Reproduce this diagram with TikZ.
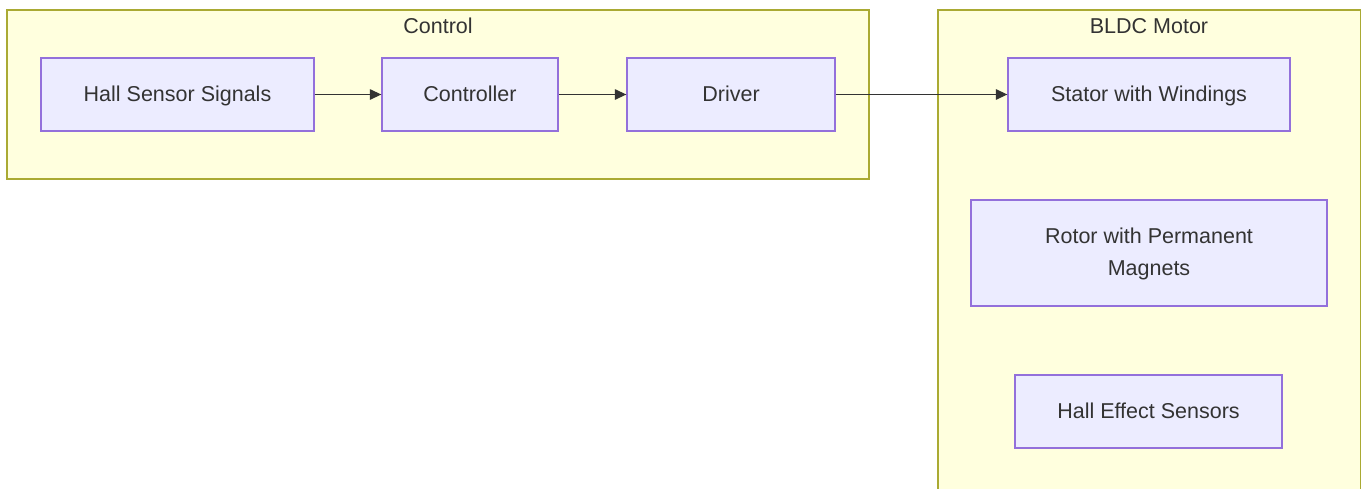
\documentclass[tikz,border=0pt]{standalone}
\usepackage{fontspec}
\setmainfont{Liberation Sans}
\usetikzlibrary{arrows.meta}
\definecolor{clfill}{HTML}{FFFFDE}
\definecolor{cldraw}{HTML}{AAAA33}
\definecolor{ndfill}{HTML}{ECECFF}
\definecolor{nddraw}{HTML}{9370DB}
\definecolor{txt}{HTML}{333333}
\tikzset{
  cluster/.style={fill=clfill, draw=cldraw, line width=1.3pt},
  clabel/.style={text=txt, font=\fontsize{21.5}{32}\selectfont, inner sep=0pt},
  box/.style={fill=ndfill, draw=nddraw, line width=1.3pt, text=txt,
    font=\fontsize{21.5}{32}\selectfont, inner sep=0pt},
  oneline/.style={box, text height=14.6pt, text depth=0pt},
  conn/.style={draw=txt, line width=1.3pt, -{Triangle[length=11.5pt,width=10.5pt]}}
}
\begin{document}
\begin{tikzpicture}[x=1pt,y=-1pt]
\useasboundingbox (0,0) rectangle (1366,488);
\clip (0,0) rectangle (1366,488);
\fill[white] (0,0) rectangle (1366,488);
% clusters
\draw[cluster] (7,10) rectangle (869,179);
\draw[cluster] (938,10) rectangle (1360.5,520);
\node[clabel] (lctl) at (438,26) {Control};
\node[clabel] (lbldc) at (1149,26) {BLDC Motor};
% nodes
\node[oneline, minimum width=273pt, minimum height=73pt] (hall) at (177.5,94.5) {Hall Sensor Signals};
\node[oneline, minimum width=176pt, minimum height=73pt] (ctrl) at (470,94.5) {Controller};
\node[oneline, minimum width=208pt, minimum height=73pt] (drv) at (731,94.5) {Driver};
\node[oneline, minimum width=282pt, minimum height=73pt] (stator) at (1149,94.5) {Stator with Windings};
\node[box, minimum width=356pt, minimum height=106pt] (rotor) at (1149,253) {\raisebox{-3pt}{\begin{tabular}{@{}c@{}}Rotor with Permanent\\Magnets\end{tabular}}};
\node[oneline, minimum width=267pt, minimum height=73pt] (hes) at (1148.5,411.5) {Hall Effect Sensors};
% connectors
\draw[conn] (hall) -- (ctrl);
\draw[conn] (ctrl) -- (drv);
\draw[conn] (drv) -- (stator);
\end{tikzpicture}
\end{document}
